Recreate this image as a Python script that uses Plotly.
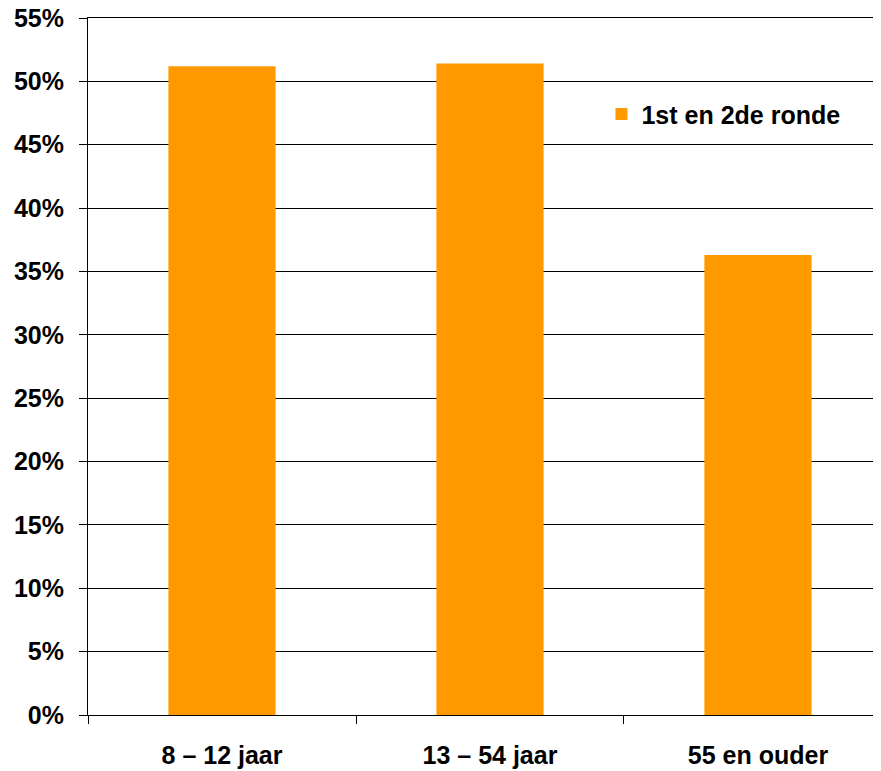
import plotly.graph_objects as go

categories = ["8 – 12 jaar", "13 – 54 jaar", "55 en ouder"]
values = [51.2, 51.4, 36.3]
series_name = "1st en 2de ronde"
y_ticks = [0, 5, 10, 15, 20, 25, 30, 35, 40, 45, 50, 55]
y_tick_labels = [f"{v}%" for v in y_ticks]

FONT = dict(family="Arial, Liberation Sans, sans-serif", size=25, color="#000000", weight="bold")

fig = go.Figure()
fig.add_trace(go.Bar(
    x=categories, y=values, name=series_name,
    marker=dict(color="#FF9900", line=dict(width=0)),
    width=0.4, showlegend=True,
))

fig.update_layout(
    width=873, height=763,
    margin=dict(l=80, r=0, t=10, b=56, autoexpand=False),
    paper_bgcolor="white", plot_bgcolor="white",
    font=FONT,
    showlegend=True,
    legend=dict(x=0.6475, y=0.895, xanchor="left", yanchor="top",
                bgcolor="rgba(0,0,0,0)", font=FONT),
    xaxis=dict(
        type="category", range=[-0.5, 2.459],
        showline=True, linecolor="#000000", linewidth=1, mirror=True,
        ticks="outside", ticklen=8, tickcolor="#000000", tickwidth=1,
        tickson="boundaries", showgrid=False,
        ticklabelstandoff=18, tickfont=FONT,
    ),
    yaxis=dict(
        range=[0, 55], tickvals=y_ticks, ticktext=y_tick_labels,
        showline=True, linecolor="#000000", linewidth=1,
        ticks="outside", ticklen=8, tickcolor="#000000", tickwidth=1,
        showgrid=True, gridcolor="#000000", gridwidth=1,
        zeroline=False, ticklabelstandoff=10, tickfont=FONT,
        ticklabeloverflow="allow",
    ),
    bargap=0.6,
)

fig.write_html("out.html")
